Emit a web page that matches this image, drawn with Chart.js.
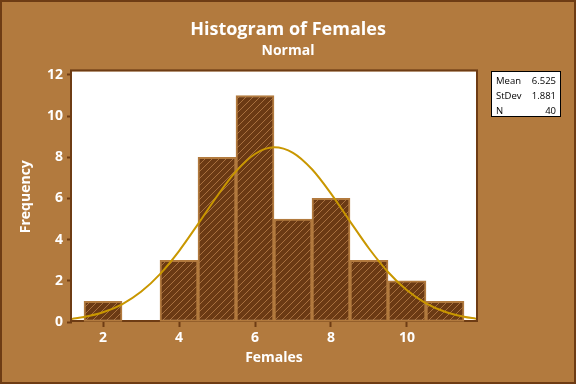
<!DOCTYPE html>
<html><head><meta charset="utf-8">
<script src="https://cdn.jsdelivr.net/npm/chart.js@4.4.0/dist/chart.umd.min.js"></script>
<style>html,body{margin:0;padding:0;background:#b27a3e}#wrap{width:576px;height:384px;position:relative}</style>
</head><body><div id="wrap"><canvas id="c" width="576" height="384"></canvas></div>
<script>
// ---- data ----
const binCenters = [2, 3, 4, 5, 6, 7, 8, 9, 10, 11];
const frequencies = [1, 0, 3, 8, 11, 5, 6, 3, 2, 1];
const curveX = [1.184, 1.5, 2, 2.5, 3, 3.5, 4, 4.5, 5, 5.5, 6, 6.5, 7, 7.5, 8, 8.5, 9, 9.5, 10, 10.5, 11, 11.5, 11.816];
const curveY = [0.151, 0.239, 0.470, 0.860, 1.465, 2.328, 3.446, 4.753, 6.108, 7.313, 8.160, 8.483, 8.218, 7.418, 6.238, 4.889, 3.570, 2.429, 1.540, 0.909, 0.501, 0.257, 0.162];
const xTickValues = [2, 4, 6, 8, 10];
const yTickValues = [0, 2, 4, 6, 8, 10, 12];
const statLabels = ['Mean', 'StDev', 'N'];
const statValues = ['6.525', '1.881', '40'];
const chartTitle = 'Histogram of Females';
const chartSubtitle = 'Normal';
const xTitle = 'Females';
const yTitle = 'Frequency';

// ---- styles ----
const BG = '#b27a3e';
const DARK = '#6e3c14';
const FONT = "'Open Sans', 'DejaVu Sans', sans-serif";

function makePattern() {
  const p = document.createElement('canvas');
  p.width = 7; p.height = 7;
  const g = p.getContext('2d');
  g.fillStyle = '#6b3a14'; g.fillRect(0, 0, 7, 7);
  g.strokeStyle = '#a8703f'; g.lineWidth = 1;
  g.beginPath();
  g.moveTo(0, 7); g.lineTo(7, 0);
  g.moveTo(-3.5, 3.5); g.lineTo(3.5, -3.5);
  g.moveTo(3.5, 10.5); g.lineTo(10.5, 3.5);
  g.stroke();
  const ctx = document.getElementById('c').getContext('2d');
  return ctx.createPattern(p, 'repeat');
}

const decor = {
  id: 'decor',
  beforeDraw(chart) {
    const { ctx, chartArea: a } = chart;
    ctx.save();
    ctx.fillStyle = BG; ctx.fillRect(0, 0, chart.width, chart.height);
    ctx.fillStyle = '#ffffff'; ctx.fillRect(a.left, a.top, a.right - a.left, a.bottom - a.top);
    ctx.restore();
  },
  beforeDatasetsDraw(chart) {
    const { ctx, chartArea: a } = chart;
    ctx.save();
    ctx.strokeStyle = DARK; ctx.lineWidth = 2;
    ctx.strokeRect(a.left - 1, a.top - 1, a.right - a.left + 2, a.bottom - a.top);
    ctx.restore();
  },
  afterDraw(chart) {
    const { ctx } = chart;
    ctx.save();
    // stats box
    ctx.fillStyle = '#ffffff'; ctx.fillRect(491, 71, 70, 46);
    ctx.strokeStyle = '#000000'; ctx.lineWidth = 1; ctx.strokeRect(491.5, 71.5, 69, 45);
    ctx.fillStyle = '#000000';
    ctx.font = '9.5px ' + FONT;
    ctx.textBaseline = 'middle';
    statLabels.forEach((l, i) => {
      const y = 81 + i * 15;
      ctx.textAlign = 'left'; ctx.fillText(l, 496, y);
      ctx.textAlign = 'right'; ctx.fillText(statValues[i], 556, y);
    });
    // outer border
    ctx.strokeStyle = DARK; ctx.lineWidth = 2;
    ctx.strokeRect(1, 1, chart.width - 2, chart.height - 2);
    ctx.restore();
  }
};

const tickFont = { family: FONT, size: 14, weight: 'bold' };

new Chart(document.getElementById('c'), {
  type: 'bar',
  data: {
    datasets: [
      {
        type: 'line',
        data: curveX.map((x, i) => ({ x: x, y: curveY[i] })),
        borderColor: '#c99700',
        borderWidth: 2,
        pointRadius: 0,
        fill: false,
        cubicInterpolationMode: 'monotone',
        order: 1
      },
      {
        type: 'bar',
        data: binCenters.map((x, i) => ({ x: x, y: frequencies[i] })),
        backgroundColor: makePattern(),
        borderColor: BG,
        borderWidth: 2,
        borderSkipped: false,
        barPercentage: 1,
        categoryPercentage: 1,
        order: 2
      }
    ]
  },
  options: {
    responsive: false,
    animation: false,
    devicePixelRatio: 1,
    layout: { padding: 0 },
    plugins: {
      legend: { display: false },
      tooltip: { enabled: false },
      title: {
        display: true, text: chartTitle, color: '#ffffff',
        font: { family: FONT, size: 18, weight: 'bold' },
        padding: { top: 19, bottom: 2 }
      },
      subtitle: {
        display: true, text: chartSubtitle, color: '#ffffff',
        font: { family: FONT, size: 14, weight: 'bold' },
        padding: { top: 0, bottom: 12 }
      }
    },
    scales: {
      x: {
        type: 'linear', min: 1.184, max: 11.816, offset: false,
        afterBuildTicks: s => { s.ticks = xTickValues.map(v => ({ value: v })); },
        afterFit: s => { s.height = 62; },
        grid: { drawOnChartArea: false, drawTicks: true, tickLength: 5, tickColor: DARK, tickWidth: 2, offset: false },
        border: { display: false },
        ticks: { color: '#ffffff', font: tickFont, padding: 3, maxRotation: 0 },
        title: { display: true, text: xTitle, color: '#ffffff', font: tickFont, padding: { top: 0, bottom: 17.6 } }
      },
      y: {
        type: 'linear', min: 0, max: 12.17,
        afterBuildTicks: s => { s.ticks = yTickValues.map(v => ({ value: v })); },
        afterFit: s => { s.width = 72; },
        grid: { drawOnChartArea: false, drawTicks: true, tickLength: 5, tickColor: DARK, tickWidth: 2 },
        border: { display: false },
        ticks: { color: '#ffffff', font: tickFont, padding: 4 },
        title: { display: true, text: yTitle, color: '#ffffff', font: tickFont, padding: { top: 17.6, bottom: 0 } }
      },
      side: {
        type: 'linear', position: 'right', display: true,
        afterFit: s => { s.width = 100; },
        grid: { display: false },
        border: { display: false },
        ticks: { display: false }
      }
    }
  },
  plugins: [decor]
});
</script>
</body></html>
